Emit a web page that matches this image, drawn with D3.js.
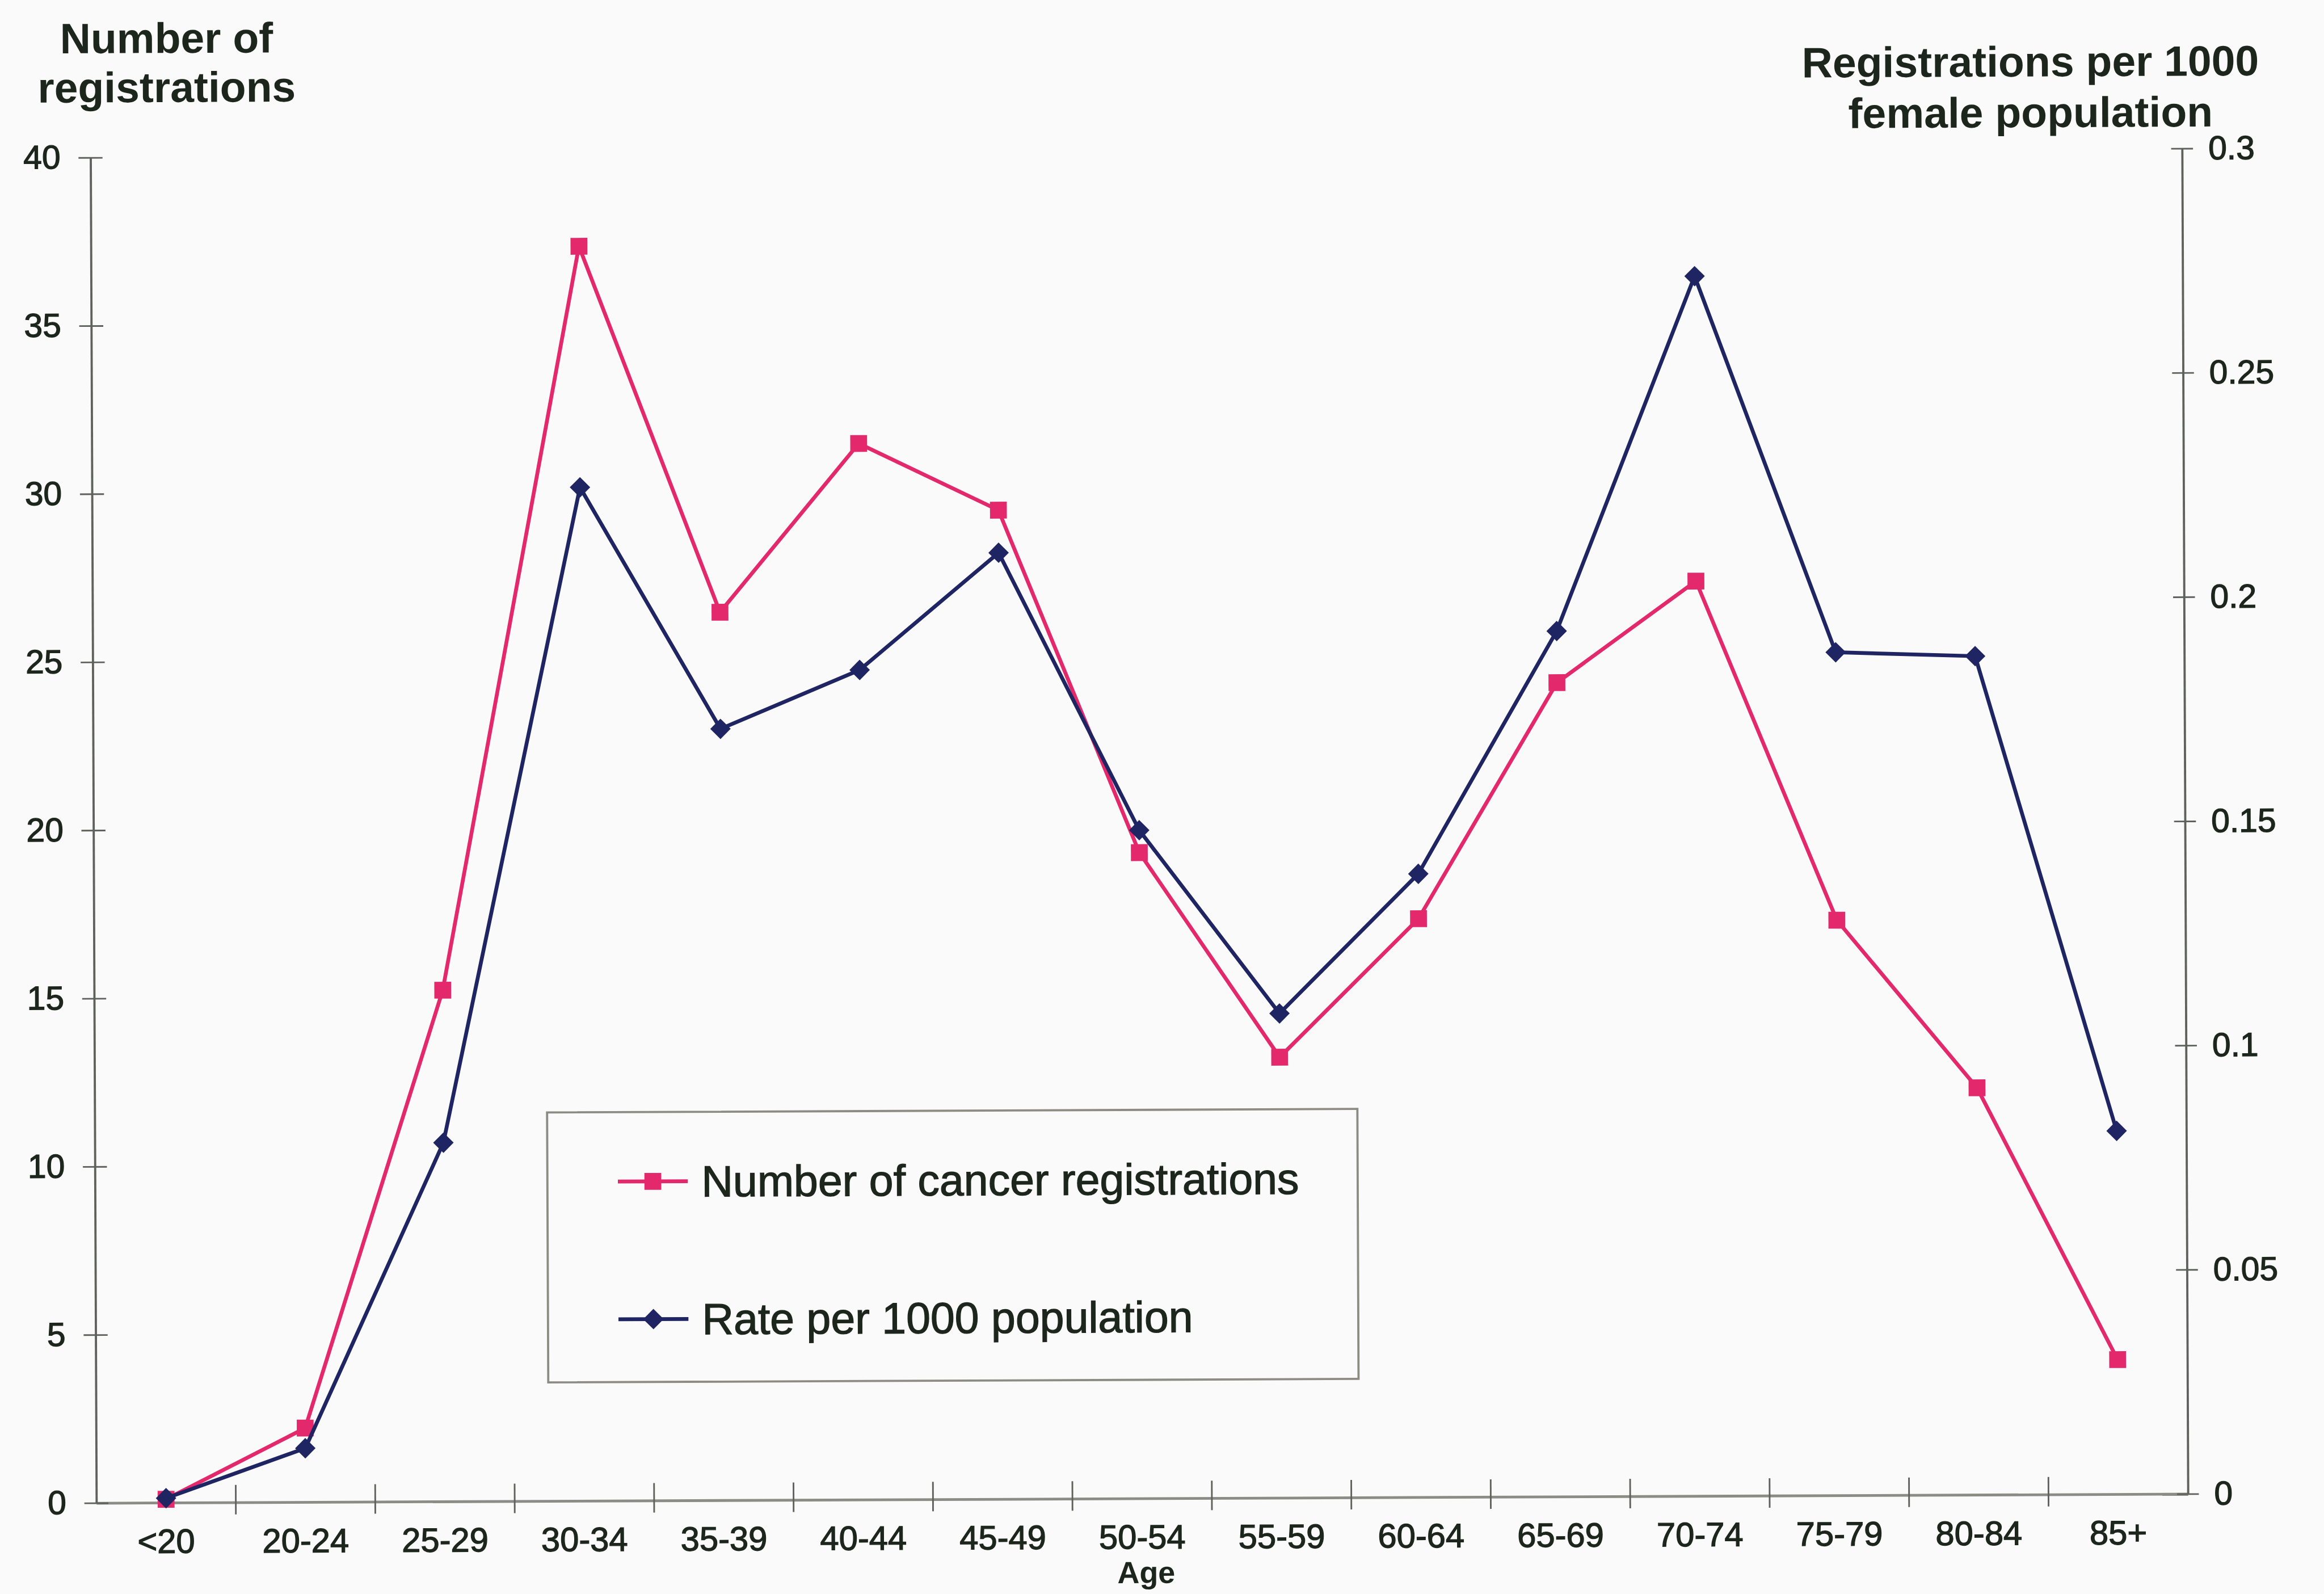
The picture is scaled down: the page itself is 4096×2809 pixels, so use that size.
<!DOCTYPE html>
<html>
<head>
<meta charset="utf-8">
<script src="https://cdn.jsdelivr.net/npm/d3@7"></script>
<style>
  body { margin: 0; background: #fafafa; }
  svg { display: block; }
  text { font-family: "Liberation Sans", Arial, Helvetica, sans-serif; fill: #1d261d; }
  .scan { stroke: #1d261d; stroke-width: 1.4px; }
</style>
</head>
<body>
<div id="chart"></div>
<script>
// values
const ageGroups = ["<20", "20-24", "25-29", "30-34", "35-39", "40-44", "45-49", "50-54",
                   "55-59", "60-64", "65-69", "70-74", "75-79", "80-84", "85+"];
const registrations = [0.1, 2.2, 15.2, 37.3, 26.4, 31.4, 29.4, 19.2, 13.1, 17.2, 24.2, 27.2, 17.1, 12.1, 4.0];
const ratePer1000 = [0.001, 0.012, 0.080, 0.226, 0.172, 0.185, 0.211, 0.149, 0.108, 0.139, 0.193, 0.272, 0.188, 0.187, 0.081];
const leftTicks = [0, 5, 10, 15, 20, 25, 30, 35, 40];
const rightTicks = [0, 0.05, 0.1, 0.15, 0.2, 0.25, 0.3];
const seriesNames = ["Number of cancer registrations", "Rate per 1000 population"];

// reference is 4250x2915, drawn at 0.963
const W = 4250, H = 2915, S = 0.963;
const margin = {top: 280, right: 251, bottom: 173, left: 171};
const PINK = "#e3296c", NAVY = "#1f2563";

let svg = d3.select("#chart").append("svg")
    .attr("width", Math.round(W * S))
    .attr("height", Math.round(H * S));

svg.append("rect").attr("width", "100%").attr("height", "100%").attr("fill", "#fafafa");

// the scan is very slightly tilted
let root = svg.append("g")
    .attr("transform", `scale(${S}) rotate(-0.25 2085 1511)`);

let x = d3.scaleBand().domain(ageGroups).range([margin.left, W - margin.right]);
let yLeft = d3.scaleLinear().domain([0, 40]).range([H - margin.bottom, margin.top]);
let yRight = d3.scaleLinear().domain([0, 0.3]).range([H - margin.bottom, margin.top]);
let cx = d => x(d) + x.bandwidth() / 2;
const y0 = H - margin.bottom;
const xR = W - margin.right;

// x axis
let xAxis = root.append("g")
    .attr("transform", `translate(0,${y0})`)
    .call(d3.axisBottom(x).tickSize(0).tickSizeOuter(0).tickPadding(48));
xAxis.attr("font-size", 62).attr("font-family", null);
xAxis.select(".domain").attr("stroke", "#8c8c86").attr("stroke-width", 5);
xAxis.selectAll(".tick text").style("fill", "#1d261d").classed("scan", true);

// category boundary ticks
xAxis.selectAll(".bound")
    .data(ageGroups.slice(1))
    .enter().append("line")
    .attr("class", "bound")
    .attr("x1", d => x(d)).attr("x2", d => x(d))
    .attr("y1", -32).attr("y2", 22)
    .attr("stroke", "#5f625c").attr("stroke-width", 3);

// left axis
let axL = root.append("g")
    .attr("transform", `translate(${margin.left},0)`)
    .call(d3.axisLeft(yLeft).tickValues(leftTicks).tickSize(0).tickSizeOuter(0).tickPadding(55));
axL.attr("font-size", 61).attr("font-family", null);
axL.select(".domain").attr("stroke", "#5f625c").attr("stroke-width", 4);
axL.selectAll(".tick text").style("fill", "#1d261d").classed("scan", true);
axL.selectAll(".tick").append("line")
    .attr("x1", -22).attr("x2", 22)
    .attr("stroke", "#5f625c").attr("stroke-width", 3);

// right axis
let axR = root.append("g")
    .attr("transform", `translate(${xR},0)`)
    .call(d3.axisRight(yRight).tickValues(rightTicks).tickSize(0).tickSizeOuter(0).tickPadding(48)
        .tickFormat(d => String(+d.toFixed(2))));
axR.attr("font-size", 61).attr("font-family", null);
axR.select(".domain").attr("stroke", "#5f625c").attr("stroke-width", 4);
axR.selectAll(".tick text").style("fill", "#1d261d").classed("scan", true);
axR.selectAll(".tick").append("line")
    .attr("x1", -20).attr("x2", 20)
    .attr("stroke", "#5f625c").attr("stroke-width", 3);

// axis titles
let leftTitle = root.append("text")
    .attr("text-anchor", "middle").attr("font-size", 78).attr("font-weight", "bold");
leftTitle.append("tspan").attr("x", 311).attr("y", 89).text("Number of");
leftTitle.append("tspan").attr("x", 311).attr("y", 179).text("registrations");

let rightTitle = root.append("text")
    .attr("text-anchor", "middle").attr("font-size", 78).attr("font-weight", "bold");
rightTitle.append("tspan").attr("x", 3722).attr("y", 147).text("Registrations per 1000");
rightTitle.append("tspan").attr("x", 3722).attr("y", 240).text("female population");

root.append("text")
    .attr("x", 2092).attr("y", 2897)
    .attr("text-anchor", "middle").attr("font-size", 56).attr("font-weight", "bold")
    .text("Age");

// series
let pinkLine = d3.line().x((d, i) => cx(ageGroups[i])).y(d => yLeft(d));
let navyLine = d3.line().x((d, i) => cx(ageGroups[i])).y(d => yRight(d));
let square = d3.symbol(d3.symbolSquare, 950);
let diamond = d3.symbol(d3.symbolSquare, 700);

root.append("path").datum(registrations)
    .attr("d", pinkLine).attr("fill", "none")
    .attr("stroke", PINK).attr("stroke-width", 7).attr("stroke-linejoin", "round");
root.selectAll(".pt-reg").data(registrations).enter().append("path")
    .attr("class", "pt-reg")
    .attr("d", square)
    .attr("transform", (d, i) => `translate(${cx(ageGroups[i])},${yLeft(d)})`)
    .attr("fill", PINK);

root.append("path").datum(ratePer1000)
    .attr("d", navyLine).attr("fill", "none")
    .attr("stroke", NAVY).attr("stroke-width", 7).attr("stroke-linejoin", "round");
root.selectAll(".pt-rate").data(ratePer1000).enter().append("path")
    .attr("class", "pt-rate")
    .attr("d", diamond)
    .attr("transform", (d, i) => `translate(${cx(ageGroups[i])},${yRight(d)}) rotate(45)`)
    .attr("fill", NAVY);

// legend
let legend = root.append("g");
legend.append("rect")
    .attr("x", 999).attr("y", 2031).attr("width", 1483).attr("height", 494)
    .attr("fill", "none").attr("stroke", "#8c8c84").attr("stroke-width", 4);

let legendRows = [
    {name: seriesNames[0], color: PINK, sym: square, rot: 0, y: 2158},
    {name: seriesNames[1], color: NAVY, sym: diamond, rot: 45, y: 2410}
];
let item = legend.selectAll(".item").data(legendRows).enter().append("g")
    .attr("class", "item")
    .attr("transform", d => `translate(0,${d.y})`);
item.append("line")
    .attr("x1", 1128).attr("x2", 1256)
    .attr("stroke", d => d.color).attr("stroke-width", 7);
item.append("path")
    .attr("d", d => d.sym())
    .attr("transform", d => `translate(1192,0) rotate(${d.rot})`)
    .attr("fill", d => d.color);
item.append("text")
    .attr("class", "scan")
    .attr("x", 1281).attr("y", 28)
    .attr("font-size", 80)
    .text(d => d.name);
</script>
</body>
</html>
